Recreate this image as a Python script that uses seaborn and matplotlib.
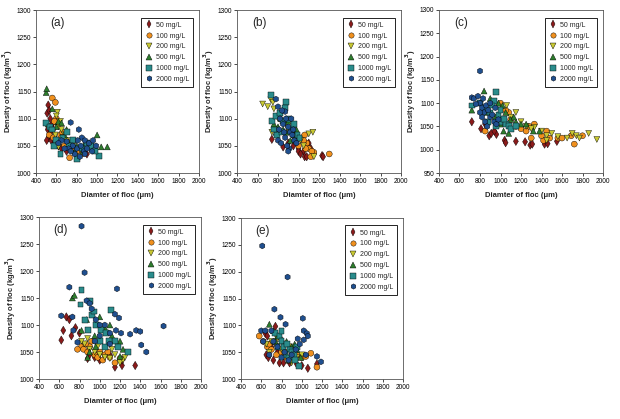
import matplotlib
matplotlib.use("Agg")
import matplotlib.pyplot as plt
import seaborn as sns
import pandas as pd

# ---------------- data (diameter um, density kg/m3) ----------------
SERIES = ["50 mg/L", "100 mg/L", "200 mg/L", "500 mg/L", "1000 mg/L", "2000 mg/L"]
PANELS = ["(a)", "(b)", "(c)", "(d)", "(e)"]
X_TICKS = [400, 600, 800, 1000, 1200, 1400, 1600, 1800, 2000]
Y_TICKS_STD = [1000, 1050, 1100, 1150, 1200, 1250, 1300]
Y_TICKS_C = [950, 1000, 1050, 1100, 1150, 1200, 1250, 1300]

A_50 = [(510,1110),(520,1125),(530,1115),(540,1100),(515,1080),(525,1065),(505,1060),(535,1070),(550,1060),
        (560,1090),(570,1080),(545,1075),(580,1055),(600,1060),(900,1035),(870,1040),(620,1050),(650,1045),(700,1040),(760,1050)]
A_100 = [(560,1138),(590,1130),(600,1100),(620,1090),(580,1095),(640,1070),(660,1075),(700,1060),(730,1028),(610,1055),
         (680,1050),(750,1045),(800,1040),(850,1035),(530,1070),(570,1065)]
A_200 = [(610,1112),(600,1105),(620,1085),(650,1080),(680,1070),(700,1060),(620,1048),(660,1065),(720,1055),(760,1050),
         (800,1045),(590,1070),(640,1095),(850,1040)]
A_500 = [(500,1148),(505,1155),(560,1118),(620,1095),(650,1092),(700,1080),(1000,1070),(1040,1048),(1100,1048),(750,1060),
         (800,1050),(880,1055),(950,1045),(600,1085),(520,1090),(680,1070),(860,1040),(780,1040)]
A_1000 = [(500,1092),(540,1085),(560,1080),(640,1035),(700,1075),(800,1025),(1020,1032),(900,1055),(850,1045),(760,1060),
          (600,1060),(660,1065),(720,1050),(940,1050),(980,1040),(580,1050)]
A_2000 = [(740,1093),(820,1080),(850,1065),(880,1060),(920,1055),(960,1060),(800,1045),(780,1035),(830,1030),(870,1040),
          (900,1045),(700,1058),(650,1060),(760,1050),(720,1045),(810,1060),(950,1040),(990,1050),(880,1035),(840,1050),
          (680,1045),(620,1055),(740,1040)]

B_50 = [(740,1062),(850,1048),(1000,1045),(1050,1040),(1060,1030),(1080,1030),(1100,1055),(1000,1040),(1230,1032),(1240,1030),
        (950,1050),(900,1055),(1120,1045),(800,1080),(1020,1035)]
B_100 = [(1060,1070),(1300,1035),(1150,1038),(1100,1045),(1080,1055),(1050,1060),(1000,1065),(1130,1040),(950,1070),(1070,1045),
         (1120,1030),(1000,1050)]
B_200 = [(650,1127),(700,1122),(730,1135),(750,1130),(760,1118),(740,1075),(1100,1072),(1140,1075),(1150,1030),(980,1055),
         (1020,1060),(950,1065),(900,1080),(880,1090),(1050,1050),(800,1100)]
B_500 = [(760,1090),(800,1085),(850,1080),(880,1075),(900,1095),(950,1085),(960,1070),(1000,1065),(830,1100),(920,1060),
         (980,1080),(780,1075)]
B_1000 = [(730,1143),(880,1130),(740,1095),(780,1105),(820,1110),(850,1095),(870,1120),(900,1100),(930,1080),(960,1090),
          (990,1070),(1010,1065),(790,1070),(840,1075),(760,1080)]
B_2000 = [(780,1136),(800,1122),(820,1100),(850,1090),(870,1113),(880,1100),(900,1085),(910,1045),(920,1075),(940,1070),
          (960,1060),(980,1055),(800,1060),(830,1055),(860,1075),(890,1050),(930,1100),(950,1080),(810,1080),(840,1115),
          (870,1065),(900,1040)]

C_50 = [(720,1060),(810,1045),(890,1030),(910,1035),(960,1033),(1040,1020),(1050,1015),(1150,1018),(1240,1017),(1290,1010),
        (1310,1012),(1430,1012),(1460,1013),(1550,1018),(940,1040),(850,1055)]
C_100 = [(850,1040),(1000,1100),(1080,1080),(1100,1065),(1150,1050),(1200,1045),(1280,1050),(1330,1055),(1300,1025),(1420,1020),
         (1450,1040),(1480,1025),(1560,1025),(1600,1025),(1690,1030),(1720,1012),(1800,1030),(1250,1040),(1050,1085),(1400,1030)]
C_200 = [(1060,1095),(1150,1080),(1200,1060),(1250,1050),(1330,1048),(1400,1040),(1450,1030),(1500,1035),(1560,1028),(1650,1025),
         (1740,1030),(1770,1025),(1860,1035),(1940,1022),(1100,1070),(1300,1045),(1450,1020),(1700,1035)]
C_500 = [(840,1126),(720,1085),(900,1110),(980,1100),(1020,1095),(1050,1080),(1100,1065),(1150,1060),(1200,1055),(1030,1040),
         (1080,1035),(950,1070),(1250,1055),(1320,1040),(1380,1040),(1000,1055),(870,1080),(1130,1070)]
C_1000 = [(960,1123),(720,1095),(800,1100),(850,1090),(900,1080),(940,1105),(980,1075),(1000,1060),(1050,1055),(1080,1050),
          (1100,1045),(1030,1065),(960,1050),(880,1060),(920,1095),(1150,1050),(1000,1085)]
C_2000 = [(800,1169),(720,1112),(740,1110),(780,1115),(800,1100),(820,1090),(840,1080),(860,1095),(880,1085),(900,1070),
          (920,1075),(940,1060),(960,1055),(980,1065),(760,1098),(820,1070),(850,1060),(900,1100),(870,1050),(800,1080),
          (830,1110),(950,1090)]

D_50 = [(620,1072),(640,1090),(670,1115),(700,1110),(720,1080),(800,1085),(880,1038),(1000,1035),(1150,1022),(1220,1025),
        (1350,1025),(1220,1035),(900,1045),(950,1040),(1100,1045),(760,1095)]
D_100 = [(820,1060),(840,1055),(880,1050),(900,1060),(950,1045),(980,1040),(1000,1050),(1050,1045),(1100,1040),(1150,1030),
         (860,1065),(920,1070),(1030,1035),(1080,1050),(1200,1038),(780,1055)]
D_200 = [(850,1065),(900,1055),(950,1050),(1000,1045),(1050,1040),(1100,1038),(1150,1045),(1200,1030),(1230,1035),(820,1070),
         (880,1075),(980,1060),(1120,1055),(1250,1040)]
D_500 = [(730,1150),(750,1155),(820,1090),(870,1110),(900,1050),(950,1080),(1000,1075),(1050,1095),(1100,1100),(1120,1080),
         (1200,1070),(1230,1055),(880,1040),(960,1060),(1200,1042),(1000,1115)]
D_1000 = [(810,1138),(820,1165),(900,1145),(920,1118),(940,1125),(960,1100),(1010,1090),(1060,1085),(1110,1128),(1150,1070),
          (1180,1060),(1280,1050),(850,1110),(880,1090),(1000,1070),(1050,1060),(1090,1070)]
D_2000 = [(620,1117),(700,1170),(730,1115),(740,1090),(780,1068),(820,1283),(850,1197),(870,1145),(900,1140),(920,1130),
          (960,1110),(1000,1100),(1050,1100),(1100,1085),(1150,1120),(1160,1090),(1170,1167),(1190,1113),(1210,1085),(1300,1083),
          (1360,1090),(1400,1088),(1410,1063),(1460,1050),(1630,1098),(1100,1065),(1000,1080),(950,1070)]

E_50 = [(640,1085),(660,1080),(650,1045),(670,1040),(740,1098),(780,1030),(820,1030),(880,1030),(950,1028),(1060,1020),
        (1150,1028),(700,1060),(760,1050),(1000,1025),(720,1035)]
E_100 = [(580,1080),(620,1070),(660,1060),(700,1055),(750,1045),(800,1050),(850,1040),(900,1035),(1000,1040),(1090,1048),
         (1150,1022),(1040,1042),(680,1065),(950,1045)]
E_200 = [(650,1065),(700,1070),(750,1060),(800,1055),(850,1050),(900,1030),(950,1040),(1000,1045),(760,1075),(820,1065),
         (680,1050),(880,1060)]
E_500 = [(680,1102),(720,1090),(760,1080),(800,1075),(850,1070),(900,1060),(950,1055),(990,1040),(830,1045),(870,1035),
         (740,1070),(930,1065)]
E_1000 = [(740,1085),(780,1080),(800,1070),(820,1060),(850,1065),(880,1055),(900,1050),(920,1045),(950,1060),(970,1025),
          (760,1060),(840,1045),(870,1040),(800,1090),(930,1035)]
E_2000 = [(610,1248),(860,1190),(730,1130),(790,1115),(840,1102),(1010,1113),(1020,1090),(1050,1085),(1060,1080),(1020,1073),
          (960,1075),(600,1090),(640,1090),(620,1070),(700,1090),(680,1045),(1040,1045),(1150,1042),(1190,1032),(800,1040),
          (830,1050),(870,1035),(900,1045),(940,1055),(980,1065),(760,1060),(720,1070)]

PANEL_DATA = {
    "(a)": [A_50, A_100, A_200, A_500, A_1000, A_2000],
    "(b)": [B_50, B_100, B_200, B_500, B_1000, B_2000],
    "(c)": [C_50, C_100, C_200, C_500, C_1000, C_2000],
    "(d)": [D_50, D_100, D_200, D_500, D_1000, D_2000],
    "(e)": [E_50, E_100, E_200, E_500, E_1000, E_2000],
}

rows = []
for p in PANELS:
    for s, pts in zip(SERIES, PANEL_DATA[p]):
        for x, y in pts:
            rows.append({"panel": p, "conc": s, "diam": x, "dens": y})
df = pd.DataFrame(rows)

# ---------------- style ----------------
sns.set_style("ticks")
plt.rcParams["font.family"] = ["Liberation Sans", "DejaVu Sans"]
plt.rcParams["axes.linewidth"] = 0.6
plt.rcParams["xtick.major.width"] = 0.5
plt.rcParams["ytick.major.width"] = 0.5
plt.rcParams["xtick.major.size"] = 2
plt.rcParams["ytick.major.size"] = 2

palette = {"50 mg/L": "#8B1A1A", "100 mg/L": "#F0901E", "200 mg/L": "#C8C832",
           "500 mg/L": "#2D7D2D", "1000 mg/L": "#2A8C8C", "2000 mg/L": "#1F4F8F"}
markers = {"50 mg/L": "d", "100 mg/L": "o", "200 mg/L": "v",
           "500 mg/L": "^", "1000 mg/L": "s", "2000 mg/L": "h"}

fig = plt.figure(figsize=(6.2, 4.19), dpi=100)
W, H = 620, 419
boxes = {
    "(a)": (36, 10, 199, 173),
    "(b)": (237, 10, 401, 173),
    "(c)": (439, 10, 603, 173),
    "(d)": (39, 217, 201, 379),
    "(e)": (241, 218, 403, 379),
}

for p in PANELS:
    x0, y0, x1, y1 = boxes[p]
    ax = fig.add_axes([x0 / W, 1 - y1 / H, (x1 - x0) / W, (y1 - y0) / H])
    sub = df[df["panel"] == p]
    sns.scatterplot(data=sub, x="diam", y="dens", hue="conc", style="conc",
                    hue_order=SERIES, style_order=SERIES, palette=palette,
                    markers=markers, s=18, edgecolor="black", linewidth=0.3,
                    ax=ax, legend="full", zorder=3)
    ax.set_xlim(400, 2000)
    ax.set_xticks(X_TICKS)
    if p == "(c)":
        ax.set_ylim(950, 1300)
        ax.set_yticks(Y_TICKS_C)
    else:
        ax.set_ylim(1000, 1300)
        ax.set_yticks(Y_TICKS_STD)
    ax.tick_params(labelsize=4.7, pad=1.5, colors="black")
    for sp in ax.spines.values():
        sp.set_color("#555555")
    ax.set_xlabel("Diamter of floc (\u03bcm)", fontsize=5.5, fontweight="bold", labelpad=5)
    ax.set_ylabel("Density of floc (kg/m$^\\mathbf{3}$)", fontsize=5.5, fontweight="bold", labelpad=1.5)
    ax.text(0.09, 0.92, p, transform=ax.transAxes, fontsize=8.5, ha="left", va="center")
    sns.move_legend(ax, "upper right", bbox_to_anchor=(0.985, 0.975), title=None,
                    fontsize=5, frameon=True, fancybox=False, edgecolor="black",
                    framealpha=1, borderpad=0.6, labelspacing=0.55, handletextpad=0.5,
                    handlelength=1.0, markerscale=0.9)
    leg = ax.get_legend()
    leg.get_frame().set_linewidth(0.6)

fig.savefig("out.png", dpi=100)
